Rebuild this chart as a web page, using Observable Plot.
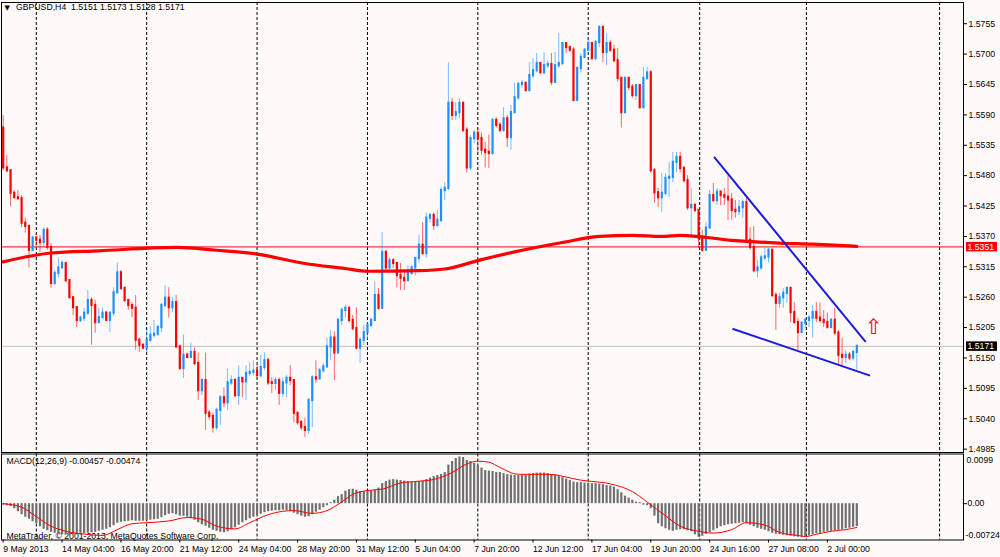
<!DOCTYPE html>
<html><head><meta charset="utf-8">
<script src="https://cdn.jsdelivr.net/npm/d3@7"></script>
<script src="https://cdn.jsdelivr.net/npm/@observablehq/plot@0.6"></script>
<style>
html,body{margin:0;padding:0;background:#fffafa;}
#chart{position:relative;width:1000px;height:557px;background:#fffafa;overflow:hidden;}
#chart svg{position:absolute;left:0;}
</style></head><body><div id="chart"></div>
<script>
const symbolTitle = "GBPUSD,H4  1.5151 1.5173 1.5128 1.5171";
const macdTitle = "MACD(12,26,9) -0.00457 -0.00474";
const copyright = "MetaTrader, \u00a9 2001-2013, MetaQuotes Software Corp.";

const firstOpen = 1.5566;
const close = [
1.5494,1.5489,1.5448,1.5440,1.5438,1.5394,1.5388,1.5345,1.5367,1.5363,
1.5359,1.5381,1.5350,1.5285,1.5303,1.5313,1.5321,1.5290,1.5259,1.5241,
1.5218,1.5222,1.5231,1.5254,1.5245,1.5214,1.5223,1.5231,1.5218,1.5231,
1.5268,1.5304,1.5276,1.5254,1.5245,1.5240,1.5182,1.5173,1.5168,1.5182,
1.5191,1.5193,1.5205,1.5245,1.5258,1.5241,1.5250,1.5170,1.5131,1.5155,
1.5151,1.5160,1.5140,1.5091,1.5109,1.5050,1.5044,1.5024,1.5055,1.5078,
1.5069,1.5105,1.5109,1.5082,1.5113,1.5107,1.5122,1.5124,1.5126,1.5118,
1.5133,1.5145,1.5105,1.5104,1.5109,1.5086,1.5105,1.5113,1.5109,1.5050,
1.5033,1.5024,1.5019,1.5073,1.5114,1.5112,1.5127,1.5134,1.5170,1.5186,
1.5159,1.5218,1.5236,1.5240,1.5218,1.5203,1.5168,1.5182,1.5196,1.5209,
1.5218,1.5263,1.5240,1.5341,1.5313,1.5326,1.5321,1.5299,1.5294,1.5290,
1.5303,1.5313,1.5330,1.5354,1.5339,1.5403,1.5408,1.5390,1.5399,1.5453,
1.5457,1.5611,1.5589,1.5594,1.5611,1.5562,1.5494,1.5547,1.5557,1.5547,
1.5526,1.5522,1.5520,1.5580,1.5571,1.5562,1.5583,1.5549,1.5594,1.5621,
1.5645,1.5647,1.5634,1.5661,1.5670,1.5683,1.5666,1.5679,1.5681,1.5649,
1.5679,1.5683,1.5719,1.5712,1.5707,1.5616,1.5674,1.5694,1.5707,1.5719,
1.5692,1.5721,1.5748,1.5703,1.5719,1.5707,1.5688,1.5656,1.5594,1.5656,
1.5640,1.5625,1.5643,1.5603,1.5656,1.5666,1.5489,1.5449,1.5440,1.5448,
1.5475,1.5477,1.5504,1.5513,1.5493,1.5471,1.5422,1.5426,1.5417,1.5366,
1.5345,1.5385,1.5444,1.5435,1.5450,1.5444,1.5441,1.5436,1.5417,1.5415,
1.5422,1.5431,1.5363,1.5350,1.5308,1.5313,1.5331,1.5333,1.5345,1.5263,
1.5249,1.5259,1.5267,1.5276,1.5232,1.5214,1.5196,1.5213,1.5218,1.5222,
1.5232,1.5222,1.5218,1.5214,1.5205,1.5218,1.5195,1.5155,1.5151,1.5155,
1.5150,1.5160,1.5171];
const high = [
1.5589,1.5517,1.5491,1.5453,1.5453,1.5444,1.5403,1.5390,1.5370,1.5370,
1.5372,1.5385,1.5386,1.5357,1.5308,1.5331,1.5326,1.5322,1.5290,1.5261,
1.5243,1.5225,1.5240,1.5272,1.5259,1.5254,1.5240,1.5241,1.5234,1.5232,
1.5277,1.5322,1.5308,1.5277,1.5256,1.5250,1.5263,1.5186,1.5175,1.5200,
1.5207,1.5218,1.5209,1.5249,1.5281,1.5277,1.5259,1.5263,1.5173,1.5191,
1.5159,1.5177,1.5168,1.5159,1.5113,1.5159,1.5055,1.5050,1.5059,1.5082,
1.5096,1.5130,1.5118,1.5113,1.5136,1.5114,1.5136,1.5141,1.5145,1.5136,
1.5155,1.5159,1.5150,1.5114,1.5114,1.5114,1.5114,1.5118,1.5136,1.5109,
1.5051,1.5037,1.5041,1.5077,1.5118,1.5145,1.5131,1.5140,1.5186,1.5200,
1.5197,1.5222,1.5240,1.5245,1.5241,1.5227,1.5241,1.5186,1.5209,1.5214,
1.5222,1.5287,1.5276,1.5377,1.5345,1.5331,1.5330,1.5322,1.5321,1.5308,
1.5317,1.5317,1.5331,1.5372,1.5395,1.5412,1.5412,1.5412,1.5417,1.5459,
1.5467,1.5684,1.5620,1.5612,1.5620,1.5607,1.5567,1.5553,1.5562,1.5566,
1.5557,1.5540,1.5553,1.5583,1.5585,1.5576,1.5603,1.5589,1.5607,1.5647,
1.5649,1.5652,1.5649,1.5684,1.5692,1.5701,1.5684,1.5703,1.5688,1.5701,
1.5703,1.5737,1.5721,1.5721,1.5714,1.5712,1.5677,1.5701,1.5710,1.5730,
1.5721,1.5725,1.5752,1.5752,1.5737,1.5725,1.5716,1.5710,1.5658,1.5658,
1.5658,1.5645,1.5645,1.5645,1.5676,1.5676,1.5670,1.5493,1.5457,1.5484,
1.5484,1.5504,1.5522,1.5522,1.5522,1.5497,1.5480,1.5457,1.5430,1.5385,
1.5381,1.5395,1.5453,1.5466,1.5457,1.5453,1.5457,1.5480,1.5448,1.5435,
1.5435,1.5435,1.5439,1.5386,1.5388,1.5326,1.5336,1.5348,1.5348,1.5345,
1.5268,1.5267,1.5276,1.5277,1.5277,1.5250,1.5222,1.5214,1.5222,1.5227,
1.5245,1.5250,1.5249,1.5236,1.5231,1.5222,1.5240,1.5200,1.5186,1.5164,
1.5160,1.5164,1.5173];
const low = [
1.5489,1.5485,1.5424,1.5439,1.5437,1.5386,1.5376,1.5313,1.5345,1.5352,
1.5341,1.5352,1.5345,1.5276,1.5281,1.5295,1.5312,1.5286,1.5258,1.5227,
1.5205,1.5214,1.5216,1.5227,1.5173,1.5195,1.5213,1.5222,1.5216,1.5196,
1.5225,1.5267,1.5272,1.5250,1.5236,1.5223,1.5164,1.5160,1.5164,1.5159,
1.5178,1.5186,1.5189,1.5196,1.5241,1.5222,1.5232,1.5168,1.5127,1.5113,
1.5150,1.5150,1.5136,1.5073,1.5082,1.5019,1.5037,1.5014,1.5019,1.5028,
1.5060,1.5055,1.5100,1.5078,1.5064,1.5078,1.5073,1.5116,1.5118,1.5114,
1.5114,1.5127,1.5100,1.5086,1.5091,1.5064,1.5078,1.5078,1.5100,1.5033,
1.5028,1.5019,1.5006,1.5012,1.5024,1.5104,1.5113,1.5123,1.5131,1.5145,
1.5109,1.5164,1.5209,1.5222,1.5213,1.5200,1.5164,1.5140,1.5173,1.5182,
1.5205,1.5218,1.5236,1.5245,1.5308,1.5308,1.5312,1.5277,1.5272,1.5272,
1.5290,1.5299,1.5299,1.5322,1.5336,1.5331,1.5395,1.5381,1.5386,1.5395,
1.5435,1.5453,1.5580,1.5580,1.5583,1.5558,1.5485,1.5489,1.5538,1.5522,
1.5517,1.5494,1.5493,1.5517,1.5566,1.5558,1.5558,1.5531,1.5526,1.5592,
1.5616,1.5638,1.5632,1.5634,1.5656,1.5666,1.5665,1.5664,1.5674,1.5643,
1.5647,1.5674,1.5679,1.5701,1.5703,1.5616,1.5616,1.5666,1.5692,1.5707,
1.5688,1.5688,1.5712,1.5685,1.5679,1.5703,1.5685,1.5649,1.5566,1.5592,
1.5634,1.5620,1.5616,1.5601,1.5601,1.5652,1.5485,1.5430,1.5422,1.5413,
1.5444,1.5440,1.5467,1.5485,1.5485,1.5467,1.5417,1.5368,1.5413,1.5348,
1.5341,1.5343,1.5386,1.5431,1.5426,1.5426,1.5426,1.5399,1.5399,1.5403,
1.5408,1.5403,1.5357,1.5345,1.5304,1.5295,1.5308,1.5326,1.5322,1.5259,
1.5200,1.5240,1.5240,1.5249,1.5214,1.5212,1.5164,1.5195,1.5203,1.5205,
1.5186,1.5214,1.5213,1.5205,1.5203,1.5207,1.5191,1.5136,1.5136,1.5140,
1.5145,1.5145,1.5128];

// long moving average, read at sample bars
const maIdx = [0,13,26,47,58,69,82,93,99,113,120,130,139,152,162,171,179,184,198,211,220,232];
const maVal = [1.5324,1.5340,1.5344,1.5350,1.5345,1.5338,1.5321,1.5312,1.5307,1.5308,1.5311,1.5328,1.5342,1.5359,1.5370,1.5372,1.5370,1.5372,1.5363,1.5358,1.5356,1.5352];

// MACD main (histogram), one per bar
const macdHist = [
-0.0003,-0.0004,-0.0006,-0.0010,-0.0016,-0.0022,-0.0027,-0.0031,-0.0036,-0.0040,
-0.0046,-0.0051,-0.0054,-0.0057,-0.0059,-0.0061,-0.0062,-0.0062,-0.0063,-0.0062,
-0.0062,-0.0061,-0.0060,-0.0059,-0.0058,-0.0057,-0.0055,-0.0053,-0.0051,-0.0048,
-0.0044,-0.0039,-0.0037,-0.0036,-0.0035,-0.0034,-0.0035,-0.0035,-0.0035,-0.0034,
-0.0033,-0.0032,-0.0031,-0.0028,-0.0024,-0.0021,-0.0020,-0.0022,-0.0025,-0.0025,
-0.0027,-0.0030,-0.0033,-0.0038,-0.0042,-0.0045,-0.0049,-0.0053,-0.0055,-0.0057,
-0.0058,-0.0056,-0.0052,-0.0048,-0.0043,-0.0038,-0.0034,-0.0030,-0.0027,-0.0024,
-0.0021,-0.0018,-0.0016,-0.0015,-0.0014,-0.0014,-0.0013,-0.0014,-0.0015,-0.0019,
-0.0022,-0.0025,-0.0027,-0.0026,-0.0022,-0.0017,-0.0013,-0.0008,-0.0004,0.0002,
0.0007,0.0014,0.0018,0.0025,0.0028,0.0029,0.0027,0.0024,0.0024,0.0024,
0.0025,0.0027,0.0031,0.0040,0.0044,0.0047,0.0048,0.0047,0.0046,0.0045,
0.0044,0.0043,0.0043,0.0044,0.0045,0.0048,0.0051,0.0054,0.0056,0.0058,
0.0062,0.0077,0.0084,0.0090,0.0093,0.0092,0.0086,0.0084,0.0080,0.0076,
0.0071,0.0066,0.0065,0.0064,0.0062,0.0062,0.0060,0.0058,0.0057,0.0056,
0.0056,0.0057,0.0057,0.0059,0.0060,0.0061,0.0061,0.0061,0.0060,0.0058,
0.0057,0.0054,0.0052,0.0049,0.0046,0.0043,0.0042,0.0042,0.0041,0.0041,
0.0040,0.0040,0.0039,0.0038,0.0036,0.0035,0.0033,0.0028,0.0022,0.0015,
0.0011,0.0007,0.0003,0.0002,-0.0003,-0.0004,-0.0010,-0.0025,-0.0040,-0.0046,
-0.0050,-0.0053,-0.0055,-0.0053,-0.0052,-0.0052,-0.0054,-0.0056,-0.0062,-0.0067,
-0.0065,-0.0061,-0.0058,-0.0054,-0.0050,-0.0046,-0.0044,-0.0042,-0.0041,-0.0040,
-0.0039,-0.0038,-0.0040,-0.0043,-0.0046,-0.0049,-0.0051,-0.0053,-0.0056,-0.0059,
-0.0061,-0.0062,-0.0063,-0.0064,-0.0065,-0.0066,-0.0067,-0.0067,-0.0066,-0.0064,
-0.0062,-0.0060,-0.0059,-0.0057,-0.0056,-0.0055,-0.0054,-0.0053,-0.0052,-0.0050,
-0.0049,-0.0047,-0.00457];

// MACD signal line, read at sample bars
const sigIdx = [0,5,8,13,17,22,27,31,35,39,45,50,54,58,63,67,72,76,79,84,88,92,95,99,103,108,113,117,122,126,129,132,135,140,148,157,166,171,175,180,184,189,193,198,202,207,211,216,218,221,225,229,232];
const sigVal = [0,-0.00069,-0.00207,-0.00448,-0.0055,-0.00606,-0.00634,-0.00517,-0.004,-0.00379,
-0.00345,-0.00276,-0.0031,-0.00448,-0.00503,-0.00379,-0.0022,-0.00152,-0.00138,-0.00193,
-0.00138,0.00034,0.00186,0.00262,0.00289,0.00413,0.00448,0.00482,0.0062,0.00792,
0.00847,0.00827,0.00723,0.00586,0.00586,0.00469,0.00379,0.00241,0.00034,-0.00241,
-0.00448,-0.0055,-0.00586,-0.00517,-0.00379,-0.00427,-0.00572,-0.00634,-0.00655,-0.0061,
-0.0055,-0.00517,-0.00474];

const priceTicks = [1.5755,1.5700,1.5645,1.5590,1.5535,1.5480,1.5425,1.5370,1.5315,1.5260,1.5205,1.5150,1.5095,1.5040,1.4985];
const macdTicks = [0.0099, 0, -0.00724];
const macdTickLabels = ["0.0099", "0.00", "-0.00724"];
const dateIdx = [0,16,32,48,64,80,96,112,128,144,160,176,192,208,224];
const dateLabels = ["9 May 2013","14 May 04:00","16 May 20:00","21 May 12:00","24 May 04:00","28 May 20:00","31 May 12:00","5 Jun 04:00","7 Jun 20:00","12 Jun 12:00","17 Jun 04:00","19 Jun 20:00","24 Jun 16:00","27 Jun 08:00","2 Jul 00:00"];
const gridIdx = [9, 39, 69, 99, 129, 159, 189.3, 218.3, 254.5];
const levelLine = [1.5351];
const bidLine = [1.5171];
const trendFromIdx = [193.2, 198.2];
const trendFromPrice = [1.5514, 1.5203];
const trendToIdx = [234.4, 235.6];
const trendToPrice = [1.5179, 1.5118];
const arrowIdx = [236.6];
const arrowPrice = [1.5205];

// ---- build tables ----
const bars = close.map((c, i) => {
  const o = i === 0 ? firstOpen : close[i - 1];
  return {i, o, c, h: Math.max(high[i], o, c), l: Math.min(low[i], o, c), up: c >= o};
});
const ma = maIdx.map((x, k) => ({x, y: maVal[k]}));
const hist = macdHist.map((v, i) => ({i, v}));
const sig = sigIdx.map((x, k) => ({x, y: sigVal[k]}));
const trends = trendFromIdx.map((x1, k) => ({x1, y1: trendFromPrice[k], x2: trendToIdx[k], y2: trendToPrice[k]}));
const arrows = arrowIdx.map((x, k) => ({x, y: arrowPrice[k]}));
const dateMap = new Map(dateIdx.map((d, k) => [d, dateLabels[k]]));

const BLUE = "#1e90ff", RED = "#ff0000", TREND = "#1a1ae0";
const FONT = "Liberation Sans, Arial, sans-serif";
const FS = 8.7;
const xDomain = [-0.46, 261];
const fmt4 = d3.format(".4f");

function priceBox(value, fill) {
  return (index, scales, values, dims) => {
    const y = scales.y(value);
    const x0 = dims.width - dims.marginRight + 3;
    const g = d3.create("svg:g");
    g.append("rect").attr("x", x0).attr("y", y - 4.5).attr("width", 31).attr("height", 9.5).attr("fill", fill);
    g.append("text").attr("x", x0 + 1.5).attr("y", y).attr("dy", "0.36em")
      .attr("fill", "#fff").attr("font-size", FS).attr("text-anchor", "start").text(fmt4(value));
    return g.node();
  };
}

const main = Plot.plot({
  width: 1000, height: 453,
  marginLeft: 1, marginRight: 37, marginTop: 2, marginBottom: 1,
  style: {background: "transparent", fontFamily: FONT, fontSize: FS + "px", color: "#000", overflow: "visible"},
  x: {domain: xDomain, axis: null},
  y: {domain: [1.49789, 1.57934], axis: null},
  marks: [
    Plot.ruleX(gridIdx, {stroke: "#000", strokeDasharray: "3,2"}),
    Plot.ruleY(bidLine, {stroke: "#c0c0c0"}),
    Plot.ruleY(levelLine, {stroke: RED}),
    Plot.ruleX(bars, {x: "i", y1: "l", y2: "h", stroke: d => d.up ? BLUE : RED, strokeOpacity: 0.6}),
    Plot.ruleX(bars, {x: "i", y1: "o", y2: "c", stroke: d => d.up ? BLUE : RED, strokeWidth: 2.2, strokeLinecap: "square"}),
    Plot.line(ma, {x: "x", y: "y", stroke: RED, strokeWidth: 3.2, curve: "monotone-x"}),
    Plot.link(trends, {x1: "x1", y1: "y1", x2: "x2", y2: "y2", stroke: TREND, strokeWidth: 2}),
    Plot.text(arrows, {x: "x", y: "y", text: () => "\u21e7", fill: RED, fontSize: 21, fontFamily: "DejaVu Sans"}),
    Plot.axisY(priceTicks, {anchor: "right", tickSize: 3, tickPadding: 2, tickFormat: fmt4, fontSize: FS}),
    Plot.frame({stroke: "#000"}),
    Plot.text(["\u25bc"], {frameAnchor: "top-left", dx: 3, dy: 3, lineAnchor: "top", textAnchor: "start", fontSize: 7, fontFamily: "DejaVu Sans"}),
    Plot.text([symbolTitle], {frameAnchor: "top-left", dx: 14.5, dy: 1.5, lineAnchor: "top", textAnchor: "start", fontSize: FS}),
    priceBox(levelLine[0], RED),
    priceBox(bidLine[0], "#000")
  ]
});
main.style.top = "0px";

const macdLabel = new Map(macdTicks.map((d, k) => [d, macdTickLabels[k]]));
const macd = Plot.plot({
  width: 1000, height: 105,
  marginLeft: 1, marginRight: 37, marginTop: 1.5, marginBottom: 17.5,
  style: {background: "transparent", fontFamily: FONT, fontSize: FS + "px", color: "#000", overflow: "visible"},
  x: {domain: xDomain, axis: null},
  y: {domain: [-0.00724, 0.0099], axis: null},
  marks: [
    Plot.text([copyright], {frameAnchor: "bottom-left", dx: 5, dy: -1.5, lineAnchor: "bottom", textAnchor: "start", fontSize: FS}),
    Plot.ruleX(gridIdx, {stroke: "#000", strokeDasharray: "3,2"}),
    Plot.ruleX(hist, {x: "i", y1: 0, y2: "v", stroke: "#707070", strokeWidth: 2.2}),
    Plot.line(sig, {x: "x", y: "y", stroke: RED, strokeWidth: 1, curve: "monotone-x"}),
    Plot.axisX(dateIdx, {anchor: "bottom", tickSize: 3, tickPadding: 3, textAnchor: "start", tickFormat: d => dateMap.get(d), fontSize: FS}),
    Plot.axisY([macdTicks[1]], {anchor: "right", tickSize: 3, tickPadding: 1, tickFormat: d => macdLabel.get(d), fontSize: FS}),
    Plot.axisY([macdTicks[0]], {anchor: "right", tickSize: 0, tickPadding: 3, dy: 6, tickFormat: d => macdLabel.get(d), fontSize: FS}),
    Plot.axisY([macdTicks[2]], {anchor: "right", tickSize: 0, tickPadding: 2, dy: -5, tickFormat: d => macdLabel.get(d), fontSize: FS}),
    Plot.frame({stroke: "#000"}),
    Plot.text([macdTitle], {frameAnchor: "top-left", dx: 5, dy: 3.5, lineAnchor: "top", textAnchor: "start", fontSize: FS})
  ]
});
macd.style.top = "452px";

const root = document.getElementById("chart");
root.append(main, macd);
</script></body></html>
